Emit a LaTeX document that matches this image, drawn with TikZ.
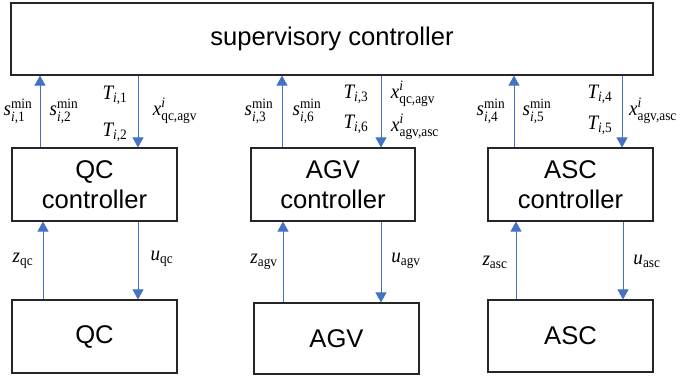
\documentclass[tikz,border=0pt]{standalone}
\usepackage{amsmath}
\usepackage{fontspec}
\setmainfont{Liberation Sans}
\newfontfamily\tms[FakeStretch=0.93]{Liberation Serif}
\usetikzlibrary{positioning,arrows.meta}
\definecolor{sigblue}{RGB}{68,114,196}
\newcommand{\tv}[1]{\text{\tms\itshape #1}}
\newcommand{\tu}[1]{\text{\tms #1}}
\tikzset{
  ctrlbox/.style={draw=black!85, line width=1.1pt, minimum width=165pt, minimum height=73pt, align=center, inner sep=0pt, font=\fontsize{25.6}{29.5}\selectfont},
  sigarrow/.style={draw=sigblue, line width=0.9pt, -{Triangle[width=11pt,length=10pt]}},
  sym/.style={inner sep=0pt, font=\fontsize{20.5}{23}\selectfont},
}

\begin{document}
\begin{tikzpicture}[x=1pt, y=-1pt]
  \useasboundingbox (0,0) rectangle (681,376);
  % boxes
  \node[ctrlbox, minimum width=642pt, minimum height=72pt] (sup) at (332,39) {supervisory controller};
  \node[ctrlbox] (qcctrl) at (94.5,184.5) {QC\\controller};
  \node[ctrlbox, minimum width=164pt] (agvctrl) at (333,184.5) {AGV\\controller};
  \node[ctrlbox] (ascctrl) at (570.5,184.5) {ASC\\controller};
  \node[ctrlbox] (qc) at (94.5,336.5) {QC};
  \node[ctrlbox, minimum height=71pt] (agv) at (336.5,338.5) {AGV};
  \node[ctrlbox, minimum height=72pt] (asc) at (570.5,336) {ASC};
  % supervisory <-> controllers
  \draw[sigarrow] ([xshift=-54.5pt]qcctrl.north) -- ([xshift=-54.5pt]qcctrl.north |- sup.south);
  \draw[sigarrow] ([xshift=43.5pt]qcctrl.north |- sup.south) -- ([xshift=43.5pt]qcctrl.north);
  \draw[sigarrow] ([xshift=-51pt]agvctrl.north) -- ([xshift=-51pt]agvctrl.north |- sup.south);
  \draw[sigarrow] ([xshift=48pt]agvctrl.north |- sup.south) -- ([xshift=48pt]agvctrl.north);
  \draw[sigarrow] ([xshift=-56.5pt]ascctrl.north) -- ([xshift=-56.5pt]ascctrl.north |- sup.south);
  \draw[sigarrow] ([xshift=51.5pt]ascctrl.north |- sup.south) -- ([xshift=51.5pt]ascctrl.north);
  % controllers <-> plants
  \draw[sigarrow] ([xshift=-51.5pt]qc.north) -- ([xshift=-51.5pt]qc.north |- qcctrl.south);
  \draw[sigarrow] ([xshift=43.5pt]qc.north |- qcctrl.south) -- ([xshift=43.5pt]qc.north);
  \draw[sigarrow] ([xshift=-53.5pt]agv.north) -- ([xshift=-53.5pt]agv.north |- agvctrl.south);
  \draw[sigarrow] ([xshift=44.5pt]agv.north |- agvctrl.south) -- ([xshift=44.5pt]agv.north);
  \draw[sigarrow] ([xshift=-54.5pt]asc.north) -- ([xshift=-54.5pt]asc.north |- ascctrl.south);
  \draw[sigarrow] ([xshift=52.5pt]asc.north |- ascctrl.south) -- ([xshift=52.5pt]asc.north);
  % signal labels
  \node[sym] (s1) at (18,111) {$\tv{s}_{\tv{i}\tu{,1}}^{\tu{min}}$};
  \node[sym] (s2) at (64,111) {$\tv{s}_{\tv{i}\tu{,2}}^{\tu{min}}$};
  \node[sym] (t1) at (115,95) {$\tv{T}_{\tv{i}\tu{,1}}$};
  \node[sym] (t2) at (115,132) {$\tv{T}_{\tv{i}\tu{,2}}$};
  \node[sym] (xqa) at (175,111) {$\tv{x}_{\tu{qc,agv}}^{\tv{i}}$};
  \node[sym] (s3) at (259,111) {$\tv{s}_{\tv{i}\tu{,3}}^{\tu{min}}$};
  \node[sym] (s6) at (307,111) {$\tv{s}_{\tv{i}\tu{,6}}^{\tu{min}}$};
  \node[sym] (t3) at (356,94) {$\tv{T}_{\tv{i}\tu{,3}}$};
  \node[sym] (t6) at (356,124) {$\tv{T}_{\tv{i}\tu{,6}}$};
  \node[sym] (xqa2) at (413,94) {$\tv{x}_{\tu{qc,agv}}^{\tv{i}}$};
  \node[sym] (xas) at (415,127) {$\tv{x}_{\tu{agv,asc}}^{\tv{i}}$};
  \node[sym] (s4) at (491,111) {$\tv{s}_{\tv{i}\tu{,4}}^{\tu{min}}$};
  \node[sym] (s5) at (537,111) {$\tv{s}_{\tv{i}\tu{,5}}^{\tu{min}}$};
  \node[sym] (t4) at (600,94) {$\tv{T}_{\tv{i}\tu{,4}}$};
  \node[sym] (t5) at (600,125) {$\tv{T}_{\tv{i}\tu{,5}}$};
  \node[sym] (xas2) at (653,111) {$\tv{x}_{\tu{agv,asc}}^{\tv{i}}$};
  \node[sym] (zqc) at (23,261) {$\tv{z}_{\tu{qc}}$};
  \node[sym] (uqc) at (162,259) {$\tv{u}_{\tu{qc}}$};
  \node[sym] (zagv) at (264,262) {$\tv{z}_{\tu{agv}}$};
  \node[sym] (uagv) at (406,261) {$\tv{u}_{\tu{agv}}$};
  \node[sym] (zasc) at (495,262) {$\tv{z}_{\tu{asc}}$};
  \node[sym] (uasc) at (647,261) {$\tv{u}_{\tu{asc}}$};
\end{tikzpicture}
\end{document}
